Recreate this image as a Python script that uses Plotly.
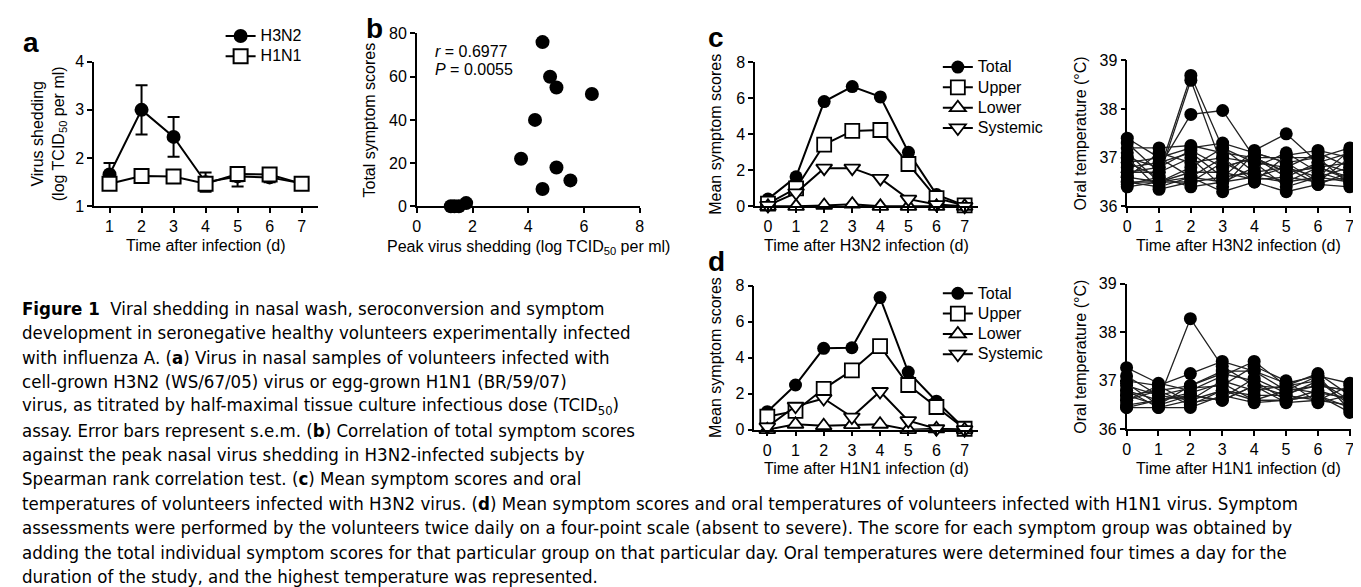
import plotly.graph_objects as go

W, H = 1361, 587
def px(x):
    return x / W
def py(y):
    return 1 - y / H

FONT = "Liberation Sans, Arial, Helvetica, sans-serif"
CAPFONT = "Liberation Sans Narrow, DejaVu Sans Condensed, Roboto Condensed, Arial Narrow, sans-serif"

# ---------------- data ----------------
# panel a
days_a = [1, 2, 3, 4, 5, 6, 7]
h3n2_shed = [1.66, 3.00, 2.44, 1.50, 1.62, 1.60, 1.48]
h3n2_sem = [0.24, 0.51, 0.41, 0.20, 0.10, 0.10, 0.0]
h1n1_shed = [1.47, 1.63, 1.62, 1.47, 1.67, 1.66, 1.47]
h1n1_sem_up = [0.0, 0.0, 0.0, 0.0, 0.0, 0.05, 0.0]
h1n1_sem_down = [0.0, 0.0, 0.0, 0.0, 0.26, 0.05, 0.0]

# panel b
peak_shed = [1.22, 1.51, 1.77, 1.35, 3.74, 4.24, 4.51, 4.78, 5.01, 6.28, 5.01, 5.51, 4.51]
total_scores = [0, 0, 1.5, 0, 22, 40, 76, 60, 55, 52, 18, 12, 8]
r_text = "<i>r</i> = 0.6977"
p_text = "<i>P</i> = 0.0055"

# panels c, d
days = [0, 1, 2, 3, 4, 5, 6, 7]
total_c = [0.40, 1.64, 5.82, 6.65, 6.08, 3.00, 0.65, 0.05]
upper_c = [0.15, 1.00, 3.43, 4.19, 4.24, 2.35, 0.45, 0.05]
lower_c = [0.00, 0.00, 0.05, 0.12, 0.00, 0.00, 0.00, 0.00]
systemic_c = [0.05, 0.75, 2.12, 2.12, 1.55, 0.40, 0.10, 0.00]

total_d = [1.00, 2.48, 4.52, 4.55, 7.34, 3.20, 1.58, 0.05]
upper_d = [0.72, 1.04, 2.27, 3.29, 4.64, 2.48, 1.26, 0.05]
lower_d = [0.00, 0.30, 0.22, 0.28, 0.30, 0.00, 0.05, 0.00]
systemic_d = [0.15, 1.30, 1.73, 0.70, 2.12, 0.50, 0.05, 0.00]

temps_h3n2 = [
    [36.70, 36.70, 38.69, 37.20, 36.90, 36.80, 36.60, 36.50],
    [36.90, 36.60, 38.59, 36.80, 37.00, 36.60, 36.90, 36.70],
    [37.00, 36.80, 37.89, 37.97, 37.00, 36.70, 36.80, 36.90],
    [37.40, 37.00, 37.20, 37.30, 37.10, 36.90, 36.50, 37.00],
    [37.20, 37.20, 37.25, 37.10, 37.00, 37.00, 37.00, 37.20],
    [36.50, 36.40, 36.60, 36.30, 36.50, 36.30, 36.45, 36.40],
    [36.60, 36.50, 36.50, 36.90, 36.60, 36.50, 36.80, 36.60],
    [36.80, 36.90, 37.10, 36.60, 37.15, 37.49, 36.90, 37.10],
    [37.10, 36.50, 36.80, 37.20, 36.70, 36.80, 37.10, 36.80],
    [36.45, 36.60, 36.40, 36.50, 36.80, 37.10, 36.70, 36.50],
    [36.60, 37.10, 36.90, 37.00, 36.90, 36.40, 36.60, 37.15],
    [37.30, 36.70, 37.00, 36.40, 37.10, 36.90, 37.00, 36.45],
    [36.50, 36.50, 36.70, 36.70, 36.55, 36.60, 36.50, 36.60],
    [36.90, 37.00, 36.60, 37.00, 36.50, 37.05, 37.15, 37.00],
    [37.00, 36.35, 36.50, 36.60, 36.70, 36.50, 36.60, 36.80],
    [36.70, 36.80, 37.15, 36.80, 37.00, 36.70, 36.80, 36.55],
    [36.40, 36.50, 36.60, 36.50, 36.60, 36.80, 36.45, 36.70],
]
temps_h1n1 = [
    [36.80, 36.60, 38.28, 37.30, 36.90, 36.70, 37.00, 36.60],
    [37.27, 36.95, 36.80, 37.10, 37.40, 36.90, 37.15, 36.70],
    [36.45, 36.45, 36.45, 36.70, 36.55, 36.60, 36.70, 36.35],
    [37.00, 36.90, 37.15, 37.40, 37.20, 36.95, 37.10, 36.95],
    [36.70, 36.50, 36.70, 36.60, 36.90, 36.55, 36.60, 36.50],
    [36.60, 36.80, 36.90, 37.20, 37.20, 36.80, 36.90, 36.80],
    [37.10, 36.70, 36.60, 36.80, 36.60, 36.80, 37.10, 36.40],
    [36.90, 36.70, 36.85, 36.90, 37.30, 37.00, 36.55, 36.70],
    [36.50, 36.60, 36.75, 36.95, 36.60, 36.60, 36.80, 36.60],
    [36.80, 36.45, 36.60, 37.00, 36.80, 36.90, 37.00, 36.50],
    [36.60, 36.90, 36.55, 36.65, 37.05, 36.75, 36.90, 36.80],
    [36.95, 36.50, 36.90, 37.15, 37.00, 36.60, 36.70, 36.45],
    [36.70, 36.80, 36.50, 36.80, 36.70, 36.70, 36.60, 36.90],
    [36.45, 36.60, 36.70, 36.60, 36.90, 36.85, 36.75, 36.65],
]

caption_lines = [
    "<b>Figure 1</b>  Viral shedding in nasal wash, seroconversion and symptom",
    "development in seronegative healthy volunteers experimentally infected",
    "with influenza A. (<b>a</b>) Virus in nasal samples of volunteers infected with",
    "cell-grown H3N2 (WS/67/05) virus or egg-grown H1N1 (BR/59/07)",
    "virus, as titrated by half-maximal tissue culture infectious dose (TCID<sub>50</sub>)",
    "assay. Error bars represent s.e.m. (<b>b</b>) Correlation of total symptom scores",
    "against the peak nasal virus shedding in H3N2-infected subjects by",
    "Spearman rank correlation test. (<b>c</b>) Mean symptom scores and oral",
    "temperatures of volunteers infected with H3N2 virus. (<b>d</b>) Mean symptom scores and oral temperatures of volunteers infected with H1N1 virus. Symptom",
    "assessments were performed by the volunteers twice daily on a four-point scale (absent to severe). The score for each symptom group was obtained by",
    "adding the total individual symptom scores for that particular group on that particular day. Oral temperatures were determined four times a day for the",
    "duration of the study, and the highest temperature was represented.",
]

# ---------------- figure ----------------
fig = go.Figure()
BLACK = "black"

def leg(name):
    return "<span style='font-size:16px'>" + name + "</span>"

# panel a
fig.add_trace(go.Scatter(
    x=days_a, y=h3n2_shed, mode="lines+markers", name=leg("H3N2"),
    line=dict(color=BLACK, width=2),
    marker=dict(symbol="circle", size=14, color=BLACK),
    error_y=dict(type="data", array=h3n2_sem, color=BLACK, thickness=2, width=6),
    xaxis="x", yaxis="y", legend="legend", cliponaxis=False))
fig.add_trace(go.Scatter(
    x=days_a, y=h1n1_shed, mode="lines+markers", name=leg("H1N1"),
    line=dict(color=BLACK, width=2),
    marker=dict(symbol="square", size=14, color="white", line=dict(color=BLACK, width=2)),
    error_y=dict(type="data", symmetric=False, array=h1n1_sem_up, arrayminus=h1n1_sem_down,
                 color=BLACK, thickness=2, width=6),
    xaxis="x", yaxis="y", legend="legend", cliponaxis=False))

# panel b
fig.add_trace(go.Scatter(
    x=peak_shed, y=total_scores, mode="markers", showlegend=False,
    marker=dict(symbol="circle", size=14, color=BLACK),
    xaxis="x2", yaxis="y2", cliponaxis=False))

# panels c and d symptom scores
def symptom_traces(xa, ya, lg, total, upper, lower, systemic):
    specs = [
        ("Total", total, dict(symbol="circle", size=13, color=BLACK)),
        ("Upper", upper, dict(symbol="square", size=14, color="white", line=dict(color=BLACK, width=1.8))),
        ("Lower", lower, dict(symbol="triangle-up", size=14, color="white", line=dict(color=BLACK, width=1.8))),
        ("Systemic", systemic, dict(symbol="triangle-down", size=14, color="white", line=dict(color=BLACK, width=1.8))),
    ]
    for name, vals, mk in specs:
        fig.add_trace(go.Scatter(
            x=days, y=vals, mode="lines+markers", name=leg(name),
            line=dict(color=BLACK, width=2), marker=mk,
            xaxis=xa, yaxis=ya, legend=lg, cliponaxis=False))

symptom_traces("x3", "y3", "legend2", total_c, upper_c, lower_c, systemic_c)
symptom_traces("x5", "y5", "legend3", total_d, upper_d, lower_d, systemic_d)

# temperature panels
for series in temps_h3n2:
    fig.add_trace(go.Scatter(
        x=days, y=series, mode="lines+markers", showlegend=False,
        line=dict(color="#222", width=1.3),
        marker=dict(symbol="circle", size=13, color=BLACK),
        xaxis="x4", yaxis="y4", cliponaxis=False))
for series in temps_h1n1:
    fig.add_trace(go.Scatter(
        x=days, y=series, mode="lines+markers", showlegend=False,
        line=dict(color="#222", width=1.3),
        marker=dict(symbol="circle", size=13, color=BLACK),
        xaxis="x6", yaxis="y6", cliponaxis=False))

ax = dict(showline=True, linecolor=BLACK, linewidth=1.5, ticks="outside", ticklen=5,
          tickwidth=1.5, tickcolor=BLACK, showgrid=False, zeroline=False,
          tickfont=dict(family=FONT, size=16, color=BLACK), fixedrange=True)

legend_common = dict(xanchor="left", yanchor="top", bgcolor="rgba(0,0,0,0)",
                     font=dict(family=FONT, size=13.3, color=BLACK), borderwidth=0, tracegroupgap=0)

fig.update_layout(
    width=W, height=H, margin=dict(l=0, r=0, t=0, b=0),
    paper_bgcolor="white", plot_bgcolor="white",
    font=dict(family=FONT, size=16, color=BLACK),
    xaxis=dict(ax, domain=[px(82.7), px(308)], range=[0.52, 7.51], tickvals=days_a, anchor="y"),
    yaxis=dict(ax, domain=[py(196), py(47)], range=[1, 4], tickvals=[1, 2, 3, 4], anchor="x"),
    xaxis2=dict(ax, domain=[px(407.5), px(632)], range=[0, 8], tickvals=[0, 2, 4, 6, 8], anchor="y2"),
    yaxis2=dict(ax, domain=[py(196), py(18)], range=[0, 80], tickvals=[0, 20, 40, 60, 80], anchor="x2"),
    xaxis3=dict(ax, domain=[px(748), px(972)], range=[-0.46, 7.46], tickvals=days, anchor="y3"),
    yaxis3=dict(ax, domain=[py(196), py(47.7)], range=[0, 8], tickvals=[0, 2, 4, 6, 8], anchor="x3"),
    xaxis4=dict(ax, domain=[px(1122.7), px(1348)], range=[0, 7.04], tickvals=days, anchor="y4"),
    yaxis4=dict(ax, domain=[py(196), py(45.7)], range=[36, 39], tickvals=[36, 37, 38, 39], anchor="x4"),
    xaxis5=dict(ax, domain=[px(747.3), px(972)], range=[-0.46, 7.46], tickvals=days, anchor="y5"),
    yaxis5=dict(ax, domain=[py(426), py(277.7)], range=[0, 8], tickvals=[0, 2, 4, 6, 8], anchor="x5"),
    xaxis6=dict(ax, domain=[px(1122), px(1348)], range=[0, 7.04], tickvals=days, anchor="y6"),
    yaxis6=dict(ax, domain=[py(425.7), py(275.7)], range=[36, 39], tickvals=[36, 37, 38, 39], anchor="x6"),
    legend=dict(legend_common, x=px(210), y=py(5)),
    legend2=dict(legend_common, x=px(932), y=py(37)),
    legend3=dict(legend_common, x=px(932), y=py(270)),
)

annotations = []
def note(text, x, y, size=16, angle=0, xanchor="center", yanchor="middle", family=FONT, align="center"):
    annotations.append(dict(text=text, x=px(x), y=py(y), xref="paper", yref="paper",
                            showarrow=False, textangle=angle, xanchor=xanchor, yanchor=yanchor,
                            align=align, font=dict(family=family, size=size, color=BLACK)))

# panel letters
note("<b>a</b>", 9, 27, size=28, xanchor="left")
note("<b>b</b>", 354, 13, size=28, xanchor="left")
note("<b>c</b>", 699, 22, size=28, xanchor="left")
note("<b>d</b>", 699, 253, size=28, xanchor="left")

# axis titles
note("Virus shedding<br>(log TCID<sub>50</sub> per ml)", 38, 121, angle=-90)
note("Time after infection (d)", 195, 236)
note("Total symptom scores", 360, 107, angle=-90)
note("Peak virus shedding (log TCID<sub>50</sub> per ml)", 520, 238)
note(r_text, 424, 37, xanchor="left")
note(p_text, 424, 55, xanchor="left")
note("Mean symptom scores", 708, 122, angle=-90)
note("Time after H3N2 infection (d)", 860, 236)
note("Oral temperature (°C)", 1076, 121, angle=-90)
note("Time after H3N2 infection (d)", 1235, 236)
note("Mean symptom scores", 708, 352, angle=-90)
note("Time after H1N1 infection (d)", 860, 466)
note("Oral temperature (°C)", 1076, 351, angle=-90)
note("Time after H1N1 infection (d)", 1235, 466)

# caption
for i, line in enumerate(caption_lines):
    note(line, 8, 301 + 25.1 * i, size=18.5, xanchor="left", family=CAPFONT, align="left")

fig.update_layout(annotations=annotations)
fig.write_html("out.html")
